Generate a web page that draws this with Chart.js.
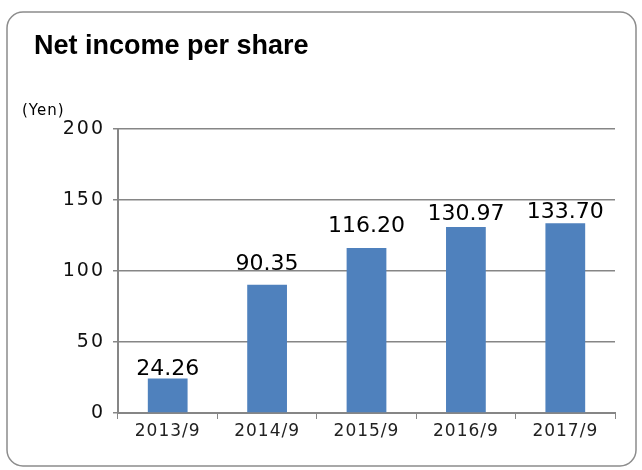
<!DOCTYPE html>
<html>
<head>
<meta charset="utf-8">
<script src="https://cdn.jsdelivr.net/npm/chart.js@4"></script>
<style>
  html, body { margin: 0; padding: 0; background: #fff; }
  #wrap { width: 642px; height: 470px; position: relative; }
</style>
</head>
<body>
<div id="wrap"><canvas id="chart"></canvas></div>
<script>
// data
const periods = ['2013/9', '2014/9', '2015/9', '2016/9', '2017/9'];
const netIncomePerShare = [24.26, 90.35, 116.20, 130.97, 133.70];
const yTicks = [0, 50, 100, 150, 200];

const SANS = '"Liberation Sans", Arial, sans-serif';
const WIDE = '"DejaVu Sans", sans-serif';

// gap (px) between bar top and its value label, labels were hand placed
const labelGaps = [4, 15, 16, 7, 5];

// rounded frame, title and "(Yen)" unit label
const framePlugin = {
  id: 'frame',
  beforeDraw(chart) {
    const ctx = chart.ctx;
    ctx.save();
    ctx.letterSpacing = '0px';
    ctx.fillStyle = '#fff';
    ctx.fillRect(0, 0, chart.width, chart.height);
    ctx.strokeStyle = '#8c8c8c';
    ctx.lineWidth = 1.5;
    ctx.beginPath();
    ctx.roundRect(7, 12, 629, 454, 16);
    ctx.stroke();
    ctx.fillStyle = '#000';
    ctx.font = 'bold 27px ' + SANS;
    ctx.textBaseline = 'alphabetic';
    ctx.fillText('Net income per share', 34, 54);
    ctx.letterSpacing = '1px';
    ctx.font = '15px ' + WIDE;
    ctx.fillText('(Yen)', 22, 115);
    ctx.restore();
    // x tick labels are drawn next, slightly spaced
    ctx.letterSpacing = '1px';
  }
};

// value labels above the bars
const valueLabels = {
  id: 'valueLabels',
  afterDatasetsDraw(chart) {
    const ctx = chart.ctx;
    const meta = chart.getDatasetMeta(0);
    ctx.save();
    ctx.letterSpacing = '0px';
    ctx.fillStyle = '#000';
    ctx.font = '22px ' + WIDE;
    ctx.textAlign = 'center';
    ctx.textBaseline = 'alphabetic';
    meta.data.forEach((bar, i) => {
      ctx.fillText(netIncomePerShare[i].toFixed(2), bar.x, bar.y - labelGaps[i]);
    });
    ctx.restore();
    // y tick labels (z: 1) are drawn after this
    ctx.letterSpacing = '2px';
  },
  afterDraw(chart) {
    chart.ctx.letterSpacing = '0px';
  }
};

const config = {
  type: 'bar',
  data: {
    labels: periods,
    datasets: [{
      data: netIncomePerShare,
      backgroundColor: '#4F81BD',
      barPercentage: 0.4,
      categoryPercentage: 1
    }]
  },
  options: {
    responsive: true,
    maintainAspectRatio: false,
    animation: false,
    layout: {
      padding: { left: 20, top: 129, right: 27, bottom: 0 }
    },
    plugins: {
      legend: { display: false },
      tooltip: { enabled: false },
      title: { display: false }
    },
    scales: {
      x: {
        offset: true,
        grid: {
          offset: true,
          drawOnChartArea: false,
          drawTicks: true,
          tickLength: 6,
          color: '#868686'
        },
        border: { color: '#868686', width: 2 },
        ticks: {
          color: '#222',
          font: { family: WIDE, size: 17 },
          padding: 2,
          maxRotation: 0
        },
        afterFit(scale) { scale.height = 57; }
      },
      y: {
        min: 0,
        max: 200,
        afterBuildTicks(scale) {
          scale.ticks = yTicks.map(v => ({ value: v }));
        },
        grid: {
          color: '#868686',
          lineWidth: 1.5,
          tickLength: 5
        },
        border: { color: '#868686', width: 2 },
        ticks: {
          z: 1,
          color: '#111',
          font: { family: WIDE, size: 19 },
          padding: 8
        },
        afterFit(scale) { scale.width = 98; }
      }
    }
  },
  plugins: [framePlugin, valueLabels]
};

new Chart(document.getElementById('chart'), config);
</script>
</body>
</html>
